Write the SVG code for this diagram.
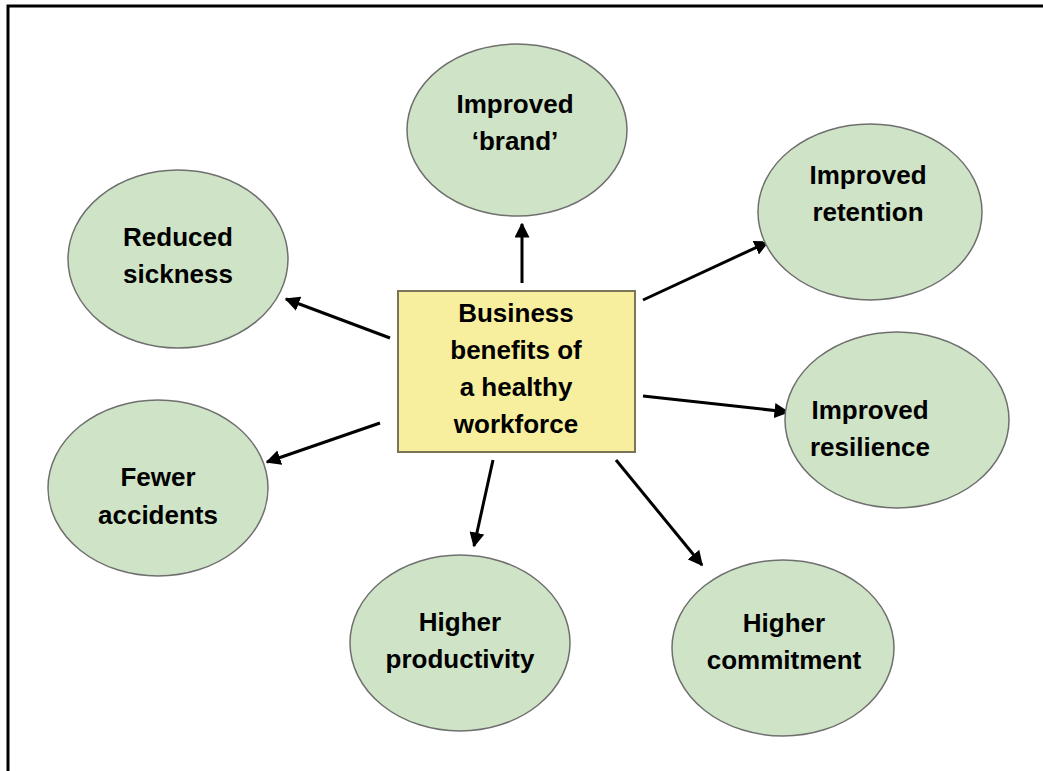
<svg xmlns="http://www.w3.org/2000/svg" width="1043" height="771" viewBox="0 0 1043 771">
<style>
.n ellipse{fill:#cfe4c6;stroke:#6f6f6f;stroke-width:1.5}
text{font-family:"Liberation Sans",Arial,sans-serif;font-weight:bold;font-size:26px;fill:#000;text-anchor:middle}
.c line{stroke:#000;stroke-width:3;marker-end:url(#ah)}
</style>
<defs>
<marker id="ah" viewBox="0 0 10 10" refX="9" refY="5" markerWidth="5" markerHeight="5" orient="auto" markerUnits="strokeWidth">
<path d="M0,0 L10,5 L0,10 z" fill="#000"/>
</marker>
</defs>
<rect width="1043" height="771" fill="#fff"/>
<path d="M8,771 V6 H1043" fill="none" stroke="#000" stroke-width="3"/>
<g class="c" id="connectors">
<line x1="522" y1="283" x2="522" y2="224"/>
<line x1="643" y1="300" x2="768" y2="242"/>
<line x1="390" y1="338" x2="286" y2="299"/>
<line x1="380" y1="423" x2="267" y2="462"/>
<line x1="643" y1="396" x2="788" y2="412"/>
<line x1="493" y1="460" x2="474" y2="546"/>
<line x1="616" y1="460" x2="702" y2="565"/>
</g>
<g id="center">
<rect x="398" y="291" width="237" height="161" fill="#f8ef9e" stroke="#7a7458" stroke-width="2"/>
<text x="516" y="322">Business</text>
<text x="516" y="359">benefits of</text>
<text x="516" y="396">a healthy</text>
<text x="516" y="433">workforce</text>
</g>
<g class="n" id="brand"><ellipse cx="517" cy="130" rx="110" ry="86"/><text x="515" y="113">Improved</text><text x="515" y="150">‘brand’</text></g>
<g class="n" id="retention"><ellipse cx="870" cy="212" rx="112" ry="88"/><text x="868" y="184">Improved</text><text x="868" y="221">retention</text></g>
<g class="n" id="sickness"><ellipse cx="178" cy="259" rx="110" ry="89"/><text x="178" y="246">Reduced</text><text x="178" y="283">sickness</text></g>
<g class="n" id="resilience"><ellipse cx="897" cy="420" rx="112" ry="88"/><text x="870" y="419">Improved</text><text x="870" y="456">resilience</text></g>
<g class="n" id="accidents"><ellipse cx="158" cy="488" rx="110" ry="88"/><text x="158" y="486">Fewer</text><text x="158" y="524">accidents</text></g>
<g class="n" id="productivity"><ellipse cx="460" cy="643" rx="110" ry="88"/><text x="460" y="631">Higher</text><text x="460" y="668">productivity</text></g>
<g class="n" id="commitment"><ellipse cx="783" cy="648" rx="111" ry="88"/><text x="784" y="632">Higher</text><text x="784" y="669">commitment</text></g>
</svg>
